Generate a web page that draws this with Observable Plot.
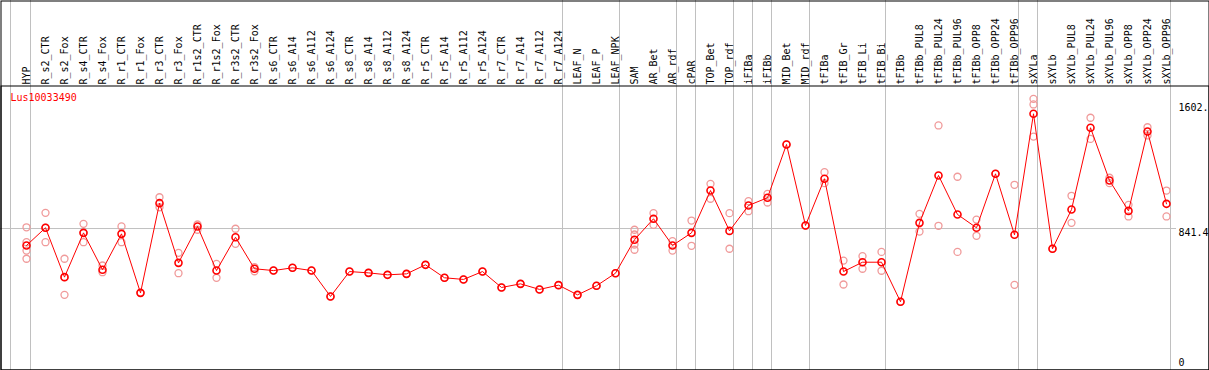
<!DOCTYPE html>
<html>
<head>
<meta charset="utf-8">
<script src="https://cdn.jsdelivr.net/npm/d3@7"></script>
<script src="https://cdn.jsdelivr.net/npm/@observablehq/plot@0.6"></script>
<style>
  html, body { margin: 0; padding: 0; background: #fff; }
</style>
</head>
<body>
<div id="chart"></div>
<script>
const geneName = "Lus10033490";

const categories = ["HYP","R_s2_CTR","R_s2_Fox","R_s4_CTR","R_s4_Fox","R_r1_CTR","R_r1_Fox","R_r3_CTR","R_r3_Fox",
  "R_r1s2_CTR","R_r1s2_Fox","R_r3s2_CTR","R_r3s2_Fox","R_s6_CTR","R_s6_A14","R_s6_A112","R_s6_A124",
  "R_s8_CTR","R_s8_A14","R_s8_A112","R_s8_A124","R_r5_CTR","R_r5_A14","R_r5_A112","R_r5_A124",
  "R_r7_CTR","R_r7_A14","R_r7_A112","R_r7_A124","LEAF_N","LEAF_P","LEAF_NPK","SAM","AR_Bet","AR_rdf",
  "cPAR","TOP_Bet","TOP_rdf","iFIBa","iFIBb","MID_Bet","MID_rdf","tFIBa","tFIB_Gr","tFIB_Li","tFIB_Bi",
  "tFIBb","tFIBb_PUL8","tFIBb_PUL24","tFIBb_PUL96","tFIBb_OPP8","tFIBb_OPP24","tFIBb_OPP96",
  "sXYLa","sXYLb","sXYLb_PUL8","sXYLb_PUL24","sXYLb_PUL96","sXYLb_OPP8","sXYLb_OPP24","sXYLb_OPP96"];

const means = [738, 846, 545, 815, 590, 809, 449, 996, 632,
  854, 585, 788, 596, 585, 602, 585, 427,
  579, 571, 559, 565, 620, 541, 531, 579,
  482, 504, 470, 496, 437, 492, 569, 773, 901, 738,
  815, 1073, 827, 982, 1029, 1354, 860, 1145, 579, 636, 636,
  395, 876, 1165, 927, 846, 1175, 803,
  1541, 718, 957, 1456, 1134, 949, 1433, 992];

const replicates = [
  [849, 758, 707, 657], [937, 846, 758], [657, 437, 545], [870, 758, 815], [616, 575], [854, 758], [449], [1032, 971], [693, 569],
  [866, 834], [626, 541], [840, 748], [606, 581], [585], [602], [585], [427],
  [579], [571], [559], [565], [620], [541], [531], [579],
  [482], [504], [470], [496], [437], [492], [569], [834, 805, 744, 712], [935, 864], [764, 707],
  [890, 736], [1114, 1023], [935, 718], [1008, 947], [1053, 1000], [1354], [860], [1185, 1118], [646, 500], [673, 596], [699, 584],
  [395], [931, 823], [1470, 858], [1157, 699], [896, 797], [1175], [1108, 498],
  [1632, 1598, 1402], [718], [1041, 876], [1517, 1388], [1151, 1118], [986, 915], [1459, 1409], [1073, 915]];

const separatorsAfter = ["HYP","R_r7_A124","LEAF_NPK","AR_rdf","cPAR","TOP_rdf","iFIBa","iFIBb","MID_rdf",
  "tFIB_Bi","tFIBb_OPP96","sXYLa","sXYLb_OPP96"];

const yMax = 1602;
const yMid = 841.4;
const yTickLabels = ["1602.", "841.4"];

const meanData = categories.map((c, i) => ({cat: c, value: means[i]}));
const repData = categories.flatMap((c, i) => replicates[i].map(v => ({cat: c, value: v})));
const topTicks = [{v: yMax, label: yTickLabels[0]}, {v: yMid, label: yTickLabels[1]}];

const font = "DejaVu Sans Mono";

const chart = Plot.plot({
  width: 1209,
  height: 370,
  margin: 0,
  style: {fontFamily: font, fontSize: "10px", background: "#fff"},
  x: {type: "point", domain: categories, range: [26, 1166], padding: 0, axis: null},
  y: {domain: [0, yMax], range: [366, 103.3], axis: null},
  marks: [
    Plot.ruleX(separatorsAfter, {x: d => d, dx: 4, stroke: "#c0c0c0", strokeOpacity: 1}),
    Plot.ruleX([categories[0]], {x: d => d, dx: -16, stroke: "#c0c0c0", strokeOpacity: 1}),
    Plot.ruleY([yMid], {y: d => d, stroke: "#c0c0c0", strokeOpacity: 1, insetRight: 33}),
    Plot.frame({stroke: "black", inset: 0.5}),
    Plot.frame({stroke: "black", insetTop: 85.5, insetLeft: 0.5, insetRight: 0.5, insetBottom: 0.5}),
    Plot.text(categories, {x: d => d, text: d => d, frameAnchor: "top", dy: 84, rotate: -90,
      textAnchor: "start", lineAnchor: "middle", fill: "black", fontFamily: font, fontSize: 10}),
    Plot.text([geneName], {text: d => d, frameAnchor: "top-left", dx: 10, dy: 93, textAnchor: "start",
      lineAnchor: "top", fill: "red", fontFamily: font, fontSize: 10}),
    Plot.text(topTicks, {y: "v", text: "label", frameAnchor: "right", dx: -31, textAnchor: "start",
      lineAnchor: "top", fill: "black", fontFamily: font, fontSize: 10}),
    Plot.text([{v: 0, label: "0"}], {y: "v", text: "label", frameAnchor: "right", dx: -31, dy: -4,
      textAnchor: "start", lineAnchor: "middle", fill: "black", fontFamily: font, fontSize: 10}),
    Plot.dot(repData, {x: "cat", y: "value", r: 3.5, stroke: "#f09a9a", strokeWidth: 1.3, fill: "none"}),
    Plot.line(meanData, {x: "cat", y: "value", stroke: "red", strokeWidth: 1}),
    Plot.dot(meanData, {x: "cat", y: "value", r: 3.5, stroke: "red", strokeWidth: 1.6, fill: "none"})
  ]
});
document.getElementById("chart").appendChild(chart);
</script>
</body>
</html>
